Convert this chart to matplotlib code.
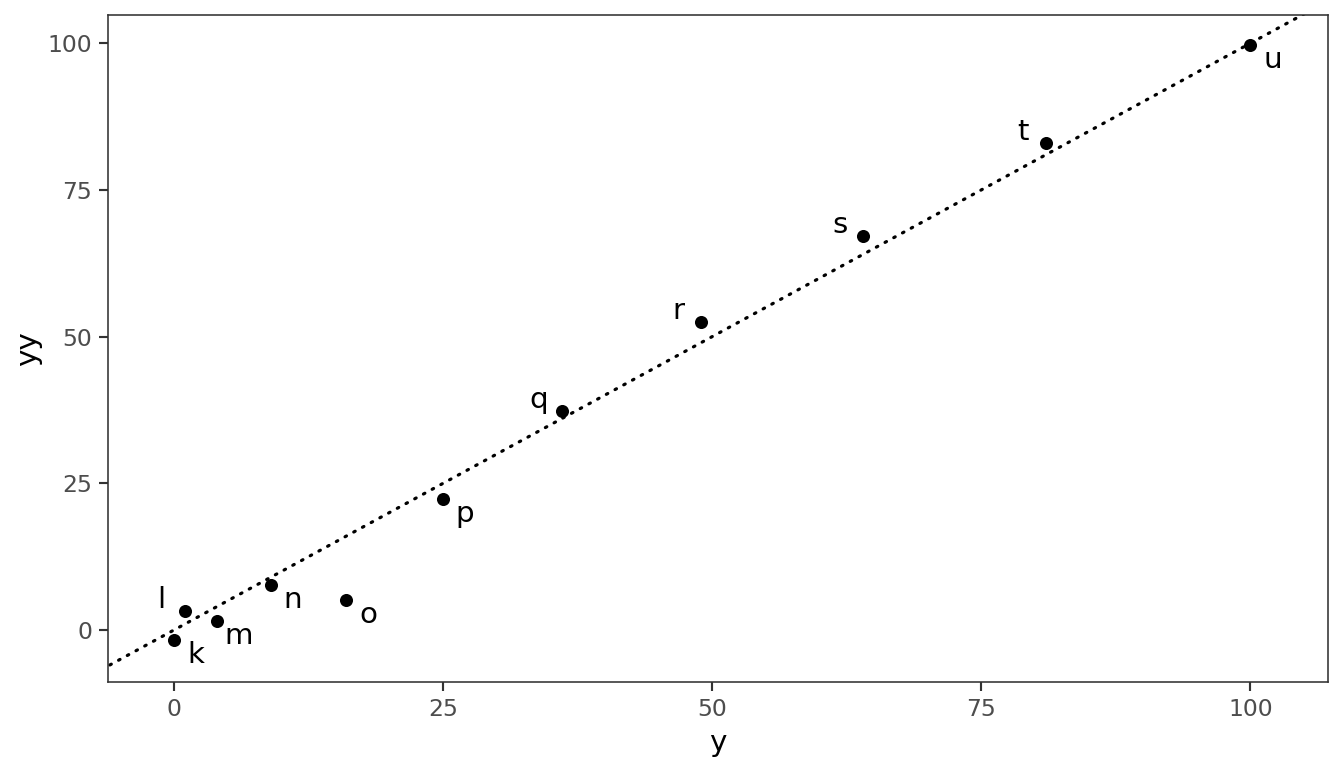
import matplotlib.pyplot as plt
import numpy as np

labels = ["k", "l", "m", "n", "o", "p", "q", "r", "s", "t", "u"]
x_vals = [0, 1, 4, 9, 16, 25, 36, 49, 64, 81, 100]
y_vals = [-1.7, 3.2, 1.5, 7.7, 5.1, 22.3, 37.3, 52.5, 67.1, 83.0, 99.7]
# which side the label sits on: 1 = right/below, -1 = left/above
label_side = [1, -1, 1, 1, 1, 1, -1, -1, -1, -1, 1]
ticks = [0, 25, 50, 75, 100]

fig = plt.figure(figsize=(7, 4), dpi=192)
ax = fig.add_axes([108 / 1344, 86 / 768, 1220 / 1344, 667 / 768])

ax.set_xlim(-6.13, 107.2)
ax.set_ylim(-8.86, 104.8)

ref = np.array([-10, 120])
ax.plot(ref, ref, color="black", linestyle=(0, (0.5, 2.6)), linewidth=1.2,
        dash_capstyle="round", zorder=1)

ax.scatter(x_vals, y_vals, s=24, color="black", zorder=3, linewidths=0)

for lab, xv, yv, side in zip(labels, x_vals, y_vals, label_side):
    if side > 0:
        off = (22, -15)
    else:
        off = (-23, 11)
    ax.annotate(lab, (xv, yv), xytext=off, textcoords="offset pixels",
                ha="center", va="center", fontsize=11, color="black")

ax.set_xticks(ticks)
ax.set_yticks(ticks)
ax.tick_params(axis="both", colors="#333333", length=3.5, width=0.8,
               labelsize=8.8, labelcolor="#4D4D4D", pad=2.5)
for sp in ax.spines.values():
    sp.set_color("#333333")
    sp.set_linewidth(0.6)

ax.set_xlabel("y", fontsize=11, labelpad=3)
ax.set_ylabel("yy", fontsize=11, labelpad=2)

fig.savefig("out.png", dpi=192)
